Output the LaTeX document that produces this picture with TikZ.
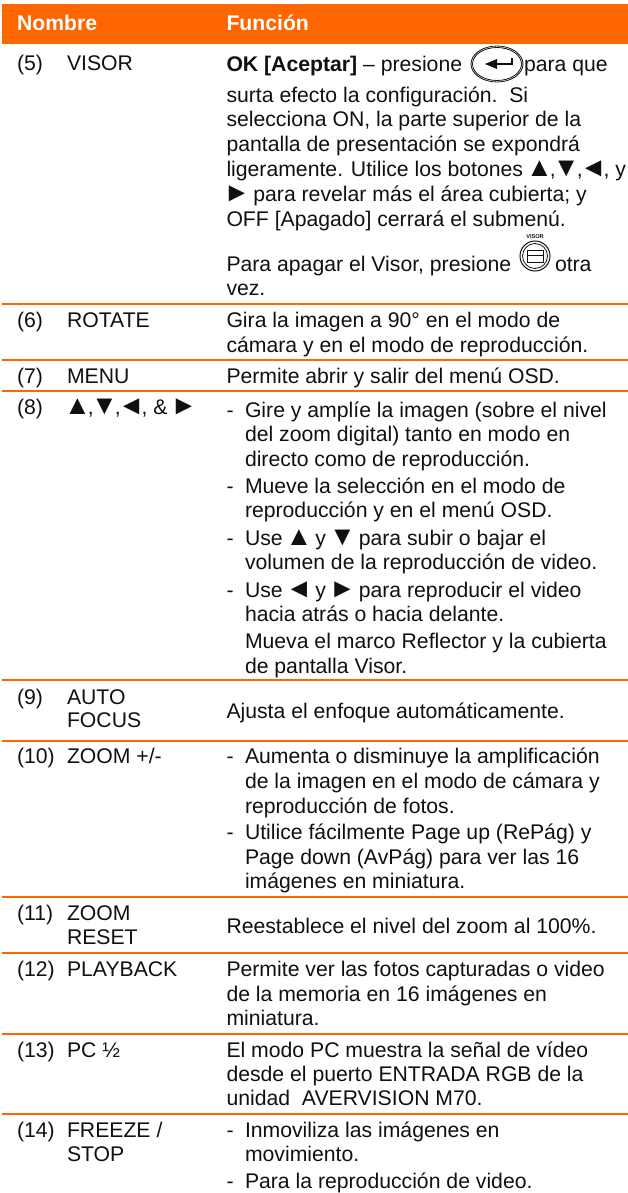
\documentclass[tikz,border=0pt]{standalone}
\usepackage{fontspec}
\setmainfont{Liberation Sans}
\definecolor{hdr}{HTML}{FF6600}
\definecolor{ink}{HTML}{101010}
\newcount\tlnum
\newcommand{\tl}[3]{\global\advance\tlnum by 1 \node[txt] (t\the\tlnum) at (#1,#2) {#3};}
\newcommand{\sep}[1]{\draw[rowline] (2,#1) -- (628,#1);}
\newcommand{\gl}[1]{{\setbox0=\hbox{#1}\makebox[\wd0][c]{\fontsize{27}{24}\selectfont #1}}}
\newcommand{\tup}{\gl{▲}}
\newcommand{\tdn}{\gl{▼}}
\newcommand{\tlf}{\gl{◄}}
\newcommand{\trt}{\gl{►}}
\tikzset{
 x=1pt,y=-1pt,
 txt/.style={anchor=base west,inner sep=0pt,outer sep=0pt,text=ink,font=\fontsize{21.2}{24}\selectfont},
 head/.style={txt,text=white,font=\fontsize{21.2}{24}\selectfont\bfseries},
 rowline/.style={draw=hdr,line width=1.7pt},
 ring/.style={draw=ink,line width=0.8pt,fill=white}
}
\begin{document}
\begin{tikzpicture}
\useasboundingbox (0,0) rectangle (628,1193);
\fill[hdr] (2,4) rectangle (628,44);
\node[head] (hn) at (17,31) {Nombre};
\node[head] (hf) at (226.5,31) {Función};
% row 5
\tl{17}{71}{(5)}\tl{67}{71}{VISOR}
\node[txt] (ok) at (226.5,72) {\textbf{OK [Aceptar]} – presione};
\draw[ring] (497,64) ellipse (26 and 18);
\draw[ring,fill=none] (497,64) ellipse (24.5 and 16.5);
\fill[ink] (485,64) -- (497,59) -- (497,69) -- cycle;
\draw[ink,line width=1.6pt] (495,64) -- (512,64) -- (512,58);
\tl{524}{72}{para que}
\tl{226.5}{103}{surta efecto la configuración.\ \ Si}
\tl{226.5}{127}{selecciona ON, la parte superior de la}
\tl{226.5}{152}{pantalla de presentación se expondrá}
\tl{226.5}{177}{ligeramente. Utilice los botones \tup,\tdn,\tlf, y}
\tl{226.5}{201}{\trt{} para revelar más el área cubierta; y}
\tl{226.5}{226}{OFF [Apagado] cerrará el submenú.}
\tl{226.5}{271}{Para apagar el Visor, presione}
\node[anchor=center,inner sep=0pt,text=ink,font=\fontsize{5.6}{6}\selectfont\bfseries] (vl) at (535,237) {VISOR};
\draw[ring,line width=1pt] (535,256) circle (15);
\draw[ring,fill=none] (535,256) circle (12.5);
\draw[ink,line width=0.8pt] (527,250) rectangle (543,262) (527,255) -- (543,255);
\tl{555}{271}{otra}
\tl{226.5}{295}{vez.}
\sep{304}
% row 6
\tl{17}{327}{(6)}\tl{67}{327}{ROTATE}
\tl{226.5}{327}{Gira la imagen a 90° en el modo de}
\tl{226.5}{352}{cámara y en el modo de reproducción.}
\sep{360}
% row 7
\tl{17}{383}{(7)}\tl{67}{383}{MENU}
\tl{226.5}{383}{Permite abrir y salir del menú OSD.}
\sep{391}
% row 8
\tl{17}{414}{(8)}\tl{67}{414}{\tup,\tdn,\tlf, \& \trt}
\tl{226.5}{417}{-}\tl{245}{417}{Gire y amplíe la imagen (sobre el nivel}
\tl{245}{441}{del zoom digital) tanto en modo en}
\tl{245}{466}{directo como de reproducción.}
\tl{226.5}{493}{-}\tl{245}{493}{Mueve la selección en el modo de}
\tl{245}{517}{reproducción y en el menú OSD.}
\tl{226.5}{545}{-}\tl{245}{545}{Use \tup{} y \tdn{} para subir o bajar el}
\tl{245}{569}{volumen de la reproducción de video.}
\tl{226.5}{597}{-}\tl{245}{597}{Use \tlf{} y \trt{} para reproducir el video}
\tl{245}{621}{hacia atrás o hacia delante.}
\tl{245}{648}{Mueva el marco Reflector y la cubierta}
\tl{245}{673}{de pantalla Visor.}
\sep{680}
% row 9
\tl{17}{704}{(9)}\tl{67}{704}{AUTO}\tl{67}{727}{FOCUS}
\tl{226.5}{718}{Ajusta el enfoque automáticamente.}
\sep{741}
% row 10
\tl{17}{763}{(10)}\tl{67}{763}{ZOOM +/-}
\tl{226.5}{763}{-}\tl{245}{763}{Aumenta o disminuye la amplificación}
\tl{245}{788}{de la imagen en el modo de cámara y}
\tl{245}{813}{reproducción de fotos.}
\tl{226.5}{839}{-}\tl{245}{839}{Utilice fácilmente Page up (RePág) y}
\tl{245}{864}{Page down (AvPág) para ver las 16}
\tl{245}{888}{imágenes en miniatura.}
\sep{897}
% row 11
\tl{17}{920}{(11)}\tl{67}{920}{ZOOM}\tl{67}{944}{RESET}
\tl{226.5}{933}{Reestablece el nivel del zoom al 100\%.}
\sep{953}
% row 12
\tl{17}{976}{(12)}\tl{67}{976}{PLAYBACK}
\tl{226.5}{976}{Permite ver las fotos capturadas o video}
\tl{226.5}{1001}{de la memoria en 16 imágenes en}
\tl{226.5}{1025}{miniatura.}
\sep{1034}
% row 13
\tl{17}{1057}{(13)}\tl{67}{1057}{PC ½}
\tl{226.5}{1057}{El modo PC muestra la señal de vídeo}
\tl{226.5}{1081}{desde el puerto ENTRADA RGB de la}
\tl{226.5}{1105}{unidad\ \ AVERVISION M70.}
\sep{1114}
% row 14
\tl{17}{1137}{(14)}\tl{67}{1137}{FREEZE /}\tl{67}{1161}{STOP}
\tl{226.5}{1137}{-}\tl{245}{1137}{Inmoviliza las imágenes en}
\tl{245}{1161}{movimiento.}
\tl{226.5}{1188}{-}\tl{245}{1188}{Para la reproducción de video.}
\end{tikzpicture}
\end{document}
